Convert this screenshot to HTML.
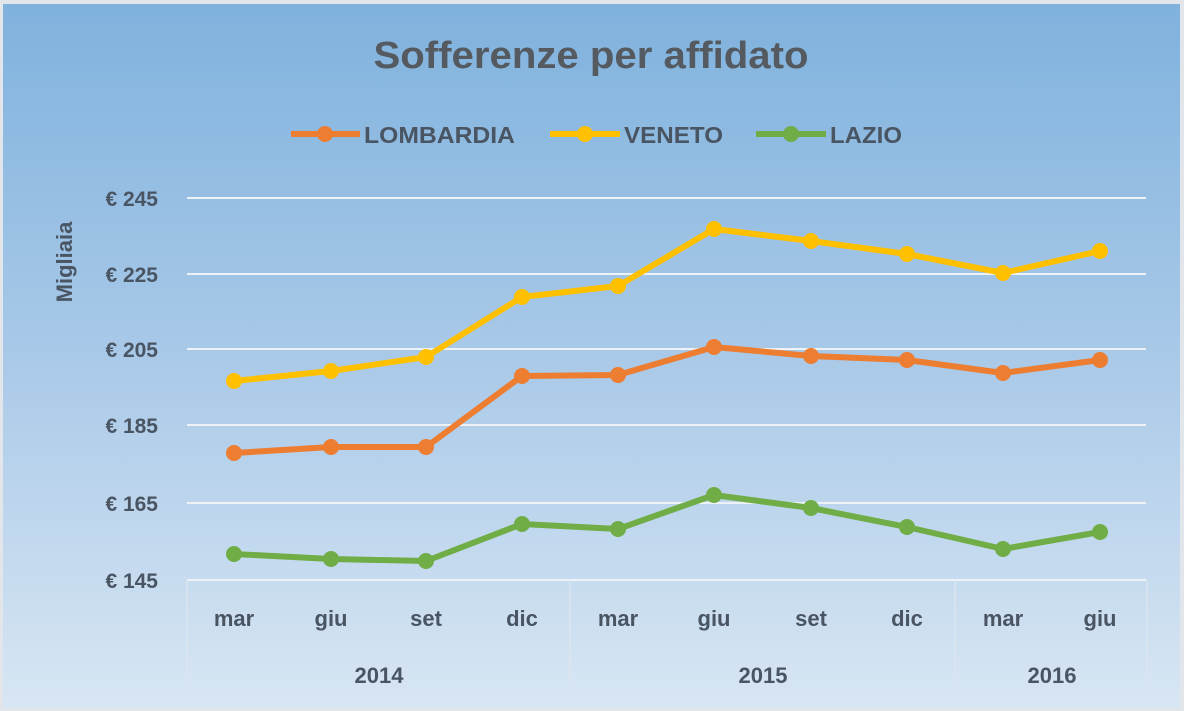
<!DOCTYPE html>
<html><head><meta charset="utf-8"><style>
html,body{margin:0;padding:0;background:#e4e9ee;}
svg{display:block;}
text{font-family:"Liberation Sans",sans-serif;font-weight:bold;fill:#4a5563;}
</style></head><body>
<svg width="1184" height="711" viewBox="0 0 1184 711">
<defs><linearGradient id="g" x1="0" y1="0" x2="0" y2="1">
<stop offset="0" stop-color="#7fb2dd"/><stop offset="0.5" stop-color="#a9c9e8"/><stop offset="1" stop-color="#d8e6f3"/></linearGradient></defs>
<rect x="0" y="0" width="1184" height="711" fill="#e2e6ea"/>
<rect x="3" y="4" width="1177" height="704" fill="url(#g)"/>
<text x="591" y="68" text-anchor="middle" font-size="38" style="fill:#545a60" textLength="435" lengthAdjust="spacingAndGlyphs">Sofferenze per affidato</text>
<g font-size="23">
<line x1="291" y1="134" x2="360" y2="134" stroke="#ed7d31" stroke-width="6"/><circle cx="325" cy="134" r="8" fill="#ed7d31"/>
<text x="364" y="143" textLength="151" lengthAdjust="spacingAndGlyphs">LOMBARDIA</text>
<line x1="550" y1="134" x2="620" y2="134" stroke="#ffc000" stroke-width="6"/><circle cx="585" cy="134" r="8" fill="#ffc000"/>
<text x="624" y="143" textLength="99" lengthAdjust="spacingAndGlyphs">VENETO</text>
<line x1="756" y1="134" x2="826" y2="134" stroke="#70ad47" stroke-width="6"/><circle cx="791" cy="134" r="8" fill="#70ad47"/>
<text x="830" y="143" textLength="72" lengthAdjust="spacingAndGlyphs">LAZIO</text>
</g>
<g stroke="#eef2f6" stroke-width="2">
<line x1="187" y1="198" x2="1146" y2="198"/><line x1="187" y1="274" x2="1146" y2="274"/>
<line x1="187" y1="349" x2="1146" y2="349"/><line x1="187" y1="425" x2="1146" y2="425"/>
<line x1="187" y1="503" x2="1146" y2="503"/><line x1="187" y1="580" x2="1146" y2="580"/>
</g>
<g stroke="#dce5ee" stroke-width="1.5" fill="none">
<line x1="187" y1="580" x2="187" y2="690"/><line x1="570" y1="580" x2="570" y2="690"/>
<line x1="955" y1="580" x2="955" y2="690"/><line x1="1147" y1="580" x2="1147" y2="690"/>
</g>
<g font-size="21" text-anchor="end">
<text x="158" y="206">€ 245</text><text x="158" y="282">€ 225</text><text x="158" y="357">€ 205</text>
<text x="158" y="433">€ 185</text><text x="158" y="511">€ 165</text><text x="158" y="588">€ 145</text>
</g>
<text transform="translate(72,262) rotate(-90)" text-anchor="middle" font-size="22">Migliaia</text>
<g font-size="22" text-anchor="middle">
<text x="234" y="626">mar</text><text x="331" y="626">giu</text><text x="426" y="626">set</text><text x="522" y="626">dic</text>
<text x="618" y="626">mar</text><text x="714" y="626">giu</text><text x="811" y="626">set</text><text x="907" y="626">dic</text>
<text x="1003" y="626">mar</text><text x="1100" y="626">giu</text>
<text x="379" y="683">2014</text><text x="763" y="683">2015</text><text x="1052" y="683">2016</text>
</g>
<g stroke-width="6" fill="none" stroke-linejoin="round">
<polyline stroke="#ffc000" points="234,381 331,371 426,357 522,297 618,286 714,229 811,241 907,254 1003,273 1100,251"/>
<polyline stroke="#ed7d31" points="234,453 331,447 426,447 522,376 618,375 714,347 811,356 907,360 1003,373 1100,360"/>
<polyline stroke="#70ad47" points="234,554 331,559 426,561 522,524 618,529 714,495 811,508 907,527 1003,549 1100,532"/>
</g>
<g fill="#ffc000"><circle cx="234" cy="381" r="8"/><circle cx="331" cy="371" r="8"/><circle cx="426" cy="357" r="8"/><circle cx="522" cy="297" r="8"/><circle cx="618" cy="286" r="8"/><circle cx="714" cy="229" r="8"/><circle cx="811" cy="241" r="8"/><circle cx="907" cy="254" r="8"/><circle cx="1003" cy="273" r="8"/><circle cx="1100" cy="251" r="8"/></g>
<g fill="#ed7d31"><circle cx="234" cy="453" r="8"/><circle cx="331" cy="447" r="8"/><circle cx="426" cy="447" r="8"/><circle cx="522" cy="376" r="8"/><circle cx="618" cy="375" r="8"/><circle cx="714" cy="347" r="8"/><circle cx="811" cy="356" r="8"/><circle cx="907" cy="360" r="8"/><circle cx="1003" cy="373" r="8"/><circle cx="1100" cy="360" r="8"/></g>
<g fill="#70ad47"><circle cx="234" cy="554" r="8"/><circle cx="331" cy="559" r="8"/><circle cx="426" cy="561" r="8"/><circle cx="522" cy="524" r="8"/><circle cx="618" cy="529" r="8"/><circle cx="714" cy="495" r="8"/><circle cx="811" cy="508" r="8"/><circle cx="907" cy="527" r="8"/><circle cx="1003" cy="549" r="8"/><circle cx="1100" cy="532" r="8"/></g>
</svg>
</body></html>
